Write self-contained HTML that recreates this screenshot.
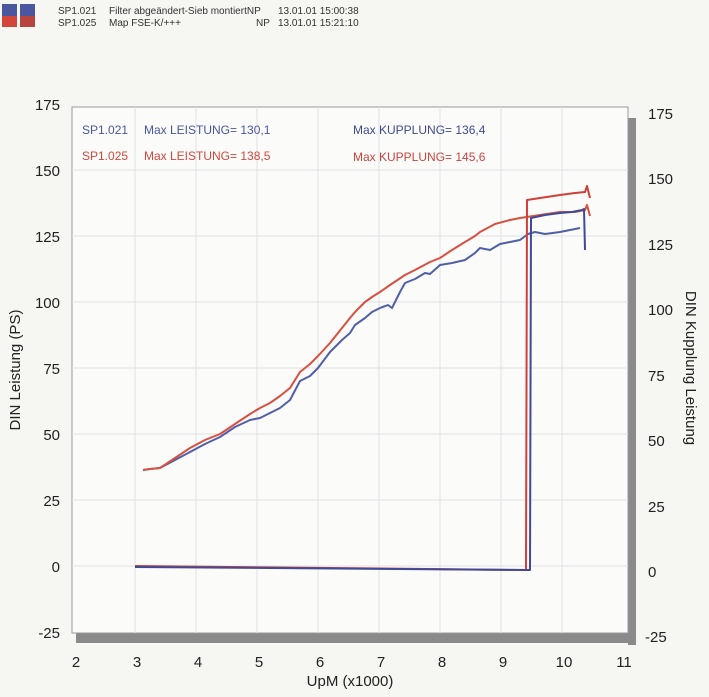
<!DOCTYPE html>
<html><head><meta charset="utf-8"><style>
body{margin:0;background:#f6f6f3;}
svg{display:block;font-family:"Liberation Sans",sans-serif;}
</style></head><body>
<svg width="709" height="697" viewBox="0 0 709 697" xmlns="http://www.w3.org/2000/svg">
<rect width="709" height="697" fill="#f6f6f3"/>
<rect x="2" y="4" width="15" height="12" fill="#4a56a0"/><rect x="2" y="16" width="15" height="11" fill="#d2473a"/>
<rect x="20" y="4" width="15" height="12" fill="#4a56a0"/><rect x="20" y="16" width="15" height="11" fill="#b8443e"/>
<g font-size="10" fill="#333">
<text x="58" y="14">SP1.021</text><text x="109" y="14">Filter abgeändert-Sieb montiertNP</text><text x="278" y="14">13.01.01 15:00:38</text>
<text x="58" y="26">SP1.025</text><text x="109" y="26">Map FSE-K/+++</text><text x="256" y="26">NP</text><text x="278" y="26">13.01.01 15:21:10</text>
</g>
<rect x="628" y="118" width="8" height="527" fill="#8a8a8a"/>
<rect x="76" y="633" width="560" height="10" fill="#8a8a8a"/>
<rect x="72" y="107" width="556" height="526" fill="#fbfbfa" stroke="#999" stroke-width="1"/>
<g stroke="#e2e2e2" stroke-width="1">
<line x1="135" y1="107" x2="135" y2="633"/><line x1="196" y1="107" x2="196" y2="633"/><line x1="257" y1="107" x2="257" y2="633"/><line x1="318" y1="107" x2="318" y2="633"/><line x1="379" y1="107" x2="379" y2="633"/><line x1="440" y1="107" x2="440" y2="633"/><line x1="501" y1="107" x2="501" y2="633"/><line x1="562" y1="107" x2="562" y2="633"/>
<line x1="72" y1="170" x2="628" y2="170"/><line x1="72" y1="236" x2="628" y2="236"/><line x1="72" y1="302" x2="628" y2="302"/><line x1="72" y1="368" x2="628" y2="368"/><line x1="72" y1="434" x2="628" y2="434"/><line x1="72" y1="500" x2="628" y2="500"/><line x1="72" y1="566" x2="628" y2="566"/>
</g>
<g font-size="12">
<text x="82" y="134" fill="#4a56a0">SP1.021</text><text x="144" y="134" fill="#4a56a0">Max LEISTUNG= 130,1</text><text x="353" y="134" fill="#3f4a8e">Max KUPPLUNG= 136,4</text>
<text x="82" y="160" fill="#d2473a">SP1.025</text><text x="144" y="160" fill="#d2473a">Max LEISTUNG= 138,5</text><text x="353" y="161" fill="#c9443e">Max KUPPLUNG= 145,6</text>
</g>
<g fill="none" stroke-width="2" stroke-linejoin="round">
<polyline stroke="#5060a8" points="143,470 150,469 160,468 175,460 190,452 205,444 220,437 235,427 250,420 260,418 270,413 280,408 290,400 300,381 310,376 318,368 330,352 342,340 350,333 355,325 365,318 372,312 380,308 388,305 392,308 400,292 405,283 415,279 425,273 430,274 440,265 452,263 465,260 475,253 480,248 490,250 500,244 510,242 520,240 528,234 535,232 545,234 560,232 570,230 580,228"/>
<polyline stroke="#d85040" points="143,470 150,469 160,468 175,458 190,448 205,440 220,434 235,424 250,414 260,408 270,403 280,396 290,388 300,372 310,364 318,356 330,343 342,328 350,318 355,312 365,302 372,297 380,292 390,285 405,275 415,270 430,262 440,258 452,250 465,242 475,236 480,232 495,224 510,220 520,218 540,215 560,212 575,212 585,210 587,205 590,216"/>
<polyline stroke="#d04038" points="135,566 526,570 527,200 540,198 560,195 575,193 585,192 587,186 590,198"/>
<polyline stroke="#3f4a98" points="135,567 530,570 531,218 545,215 560,213 572,212 582,210 584,209 585,250"/>
</g>
<g font-size="15" fill="#222" text-anchor="end">
<text x="60" y="110">175</text><text x="60" y="176">150</text><text x="60" y="242">125</text><text x="60" y="308">100</text><text x="60" y="374">75</text><text x="60" y="440">50</text><text x="60" y="506">25</text><text x="60" y="572">0</text><text x="60" y="638">-25</text>
</g>
<g font-size="15" fill="#222" text-anchor="start">
<text x="648" y="119">175</text><text x="648" y="184">150</text><text x="648" y="250">125</text><text x="648" y="315">100</text><text x="648" y="381">75</text><text x="648" y="446">50</text><text x="648" y="512">25</text><text x="648" y="577">0</text><text x="645" y="642">-25</text>
</g>
<g font-size="15" fill="#222" text-anchor="middle">
<text x="76" y="667">2</text><text x="137" y="667">3</text><text x="198" y="667">4</text><text x="259" y="667">5</text><text x="320" y="667">6</text><text x="381" y="667">7</text><text x="442" y="667">8</text><text x="503" y="667">9</text><text x="564" y="667">10</text><text x="624" y="667">11</text>
<text x="350" y="686">UpM (x1000)</text>
<text transform="translate(20,370) rotate(-90)">DIN Leistung (PS)</text>
<text transform="translate(686,368) rotate(90)">DIN Kupplung Leistung</text>
</g>
</svg>
</body></html>
